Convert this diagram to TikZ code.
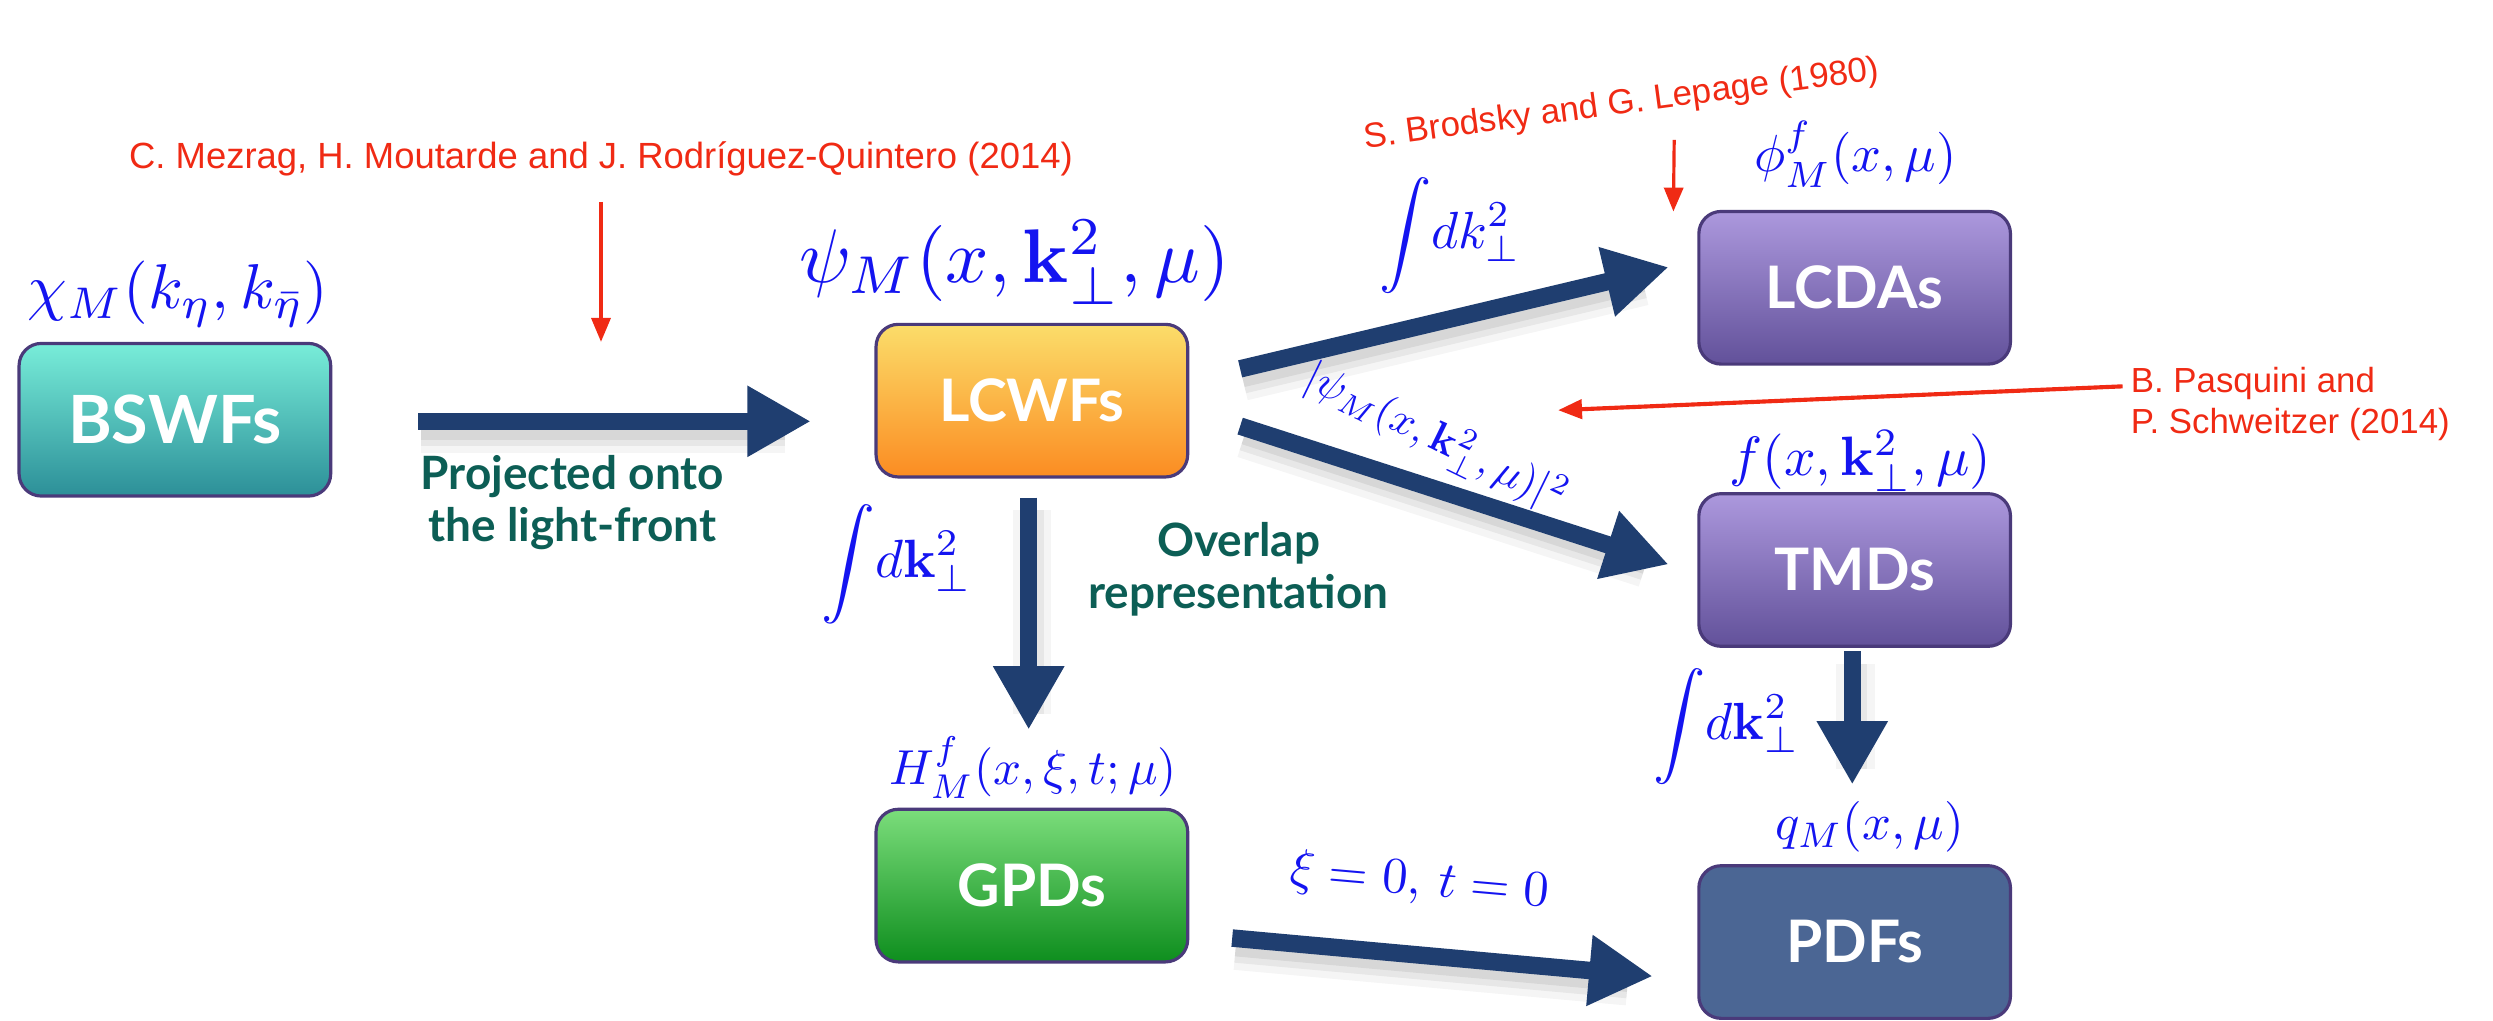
\documentclass[tikz,border=0pt]{standalone}
\usepackage[no-math]{fontspec}
\usepackage{amsmath}
\usetikzlibrary{arrows.meta,calc}
\setmainfont{Lato}
\newfontfamily\reffont{Liberation Sans}
\definecolor{navy}{HTML}{1F3E70}
\definecolor{refred}{HTML}{F02A14}
\definecolor{mblue}{HTML}{1414F0}
\definecolor{tealtxt}{HTML}{0C5E55}
\definecolor{boxborder}{HTML}{4A3A7A}
\definecolor{pdfcol}{HTML}{4B6694}
\tikzset{
  box/.style={rounded corners=14bp, draw=boxborder, line width=2bp,
    minimum width=196bp, minimum height=96bp, text=white,
    font=\fontsize{37}{40}\bfseries\selectfont},
  mlab/.style={text=mblue, inner sep=0pt},
  reftext/.style={text=refred, font=\reffont\fontsize{23}{27}\selectfont, inner sep=0pt},
  tlab/.style={text=tealtxt, font=\fontsize{29}{33}\bfseries\selectfont, align=center, inner sep=0pt},
  bigarrow/.style={draw=navy, line width=11bp, -{Triangle[length=40bp,width=42bp]},
    preaction={draw=black, draw opacity=0.04, line width=24bp, -, shorten >=18bp, transform canvas={xshift=2bp,yshift=-8bp}},
    preaction={draw=black, draw opacity=0.06, line width=15bp, -, shorten >=18bp, transform canvas={xshift=2bp,yshift=-8bp}},
    preaction={draw=black, draw opacity=0.07, line width=7bp, -, shorten >=18bp, transform canvas={xshift=2bp,yshift=-8bp}}},
  redarrow/.style={draw=refred, line width=2bp, -{Triangle[length=15bp,width=12bp]}},
}
\begin{document}
\begin{tikzpicture}[x=1bp,y=-1bp]
\useasboundingbox (0,0) rectangle (1568,642);
% boxes
\node[box, top color={rgb,255:red,120;green,237;blue,217}, bottom color={rgb,255:red,44;green,143;blue,152}, font=\fontsize{42}{46}\bfseries\selectfont] (bswf) at (110,264) {BSWFs};
\node[box, top color={rgb,255:red,251;green,221;blue,106}, bottom color={rgb,255:red,251;green,140;blue,34}] (lcwf) at (649,252) {LCWFs};
\node[box, top color={rgb,255:red,123;green,221;blue,123}, bottom color={rgb,255:red,14;green,142;blue,30}] (gpd) at (649,557) {GPDs};
\node[box, top color={rgb,255:red,172;green,152;blue,221}, bottom color={rgb,255:red,98;green,81;blue,154}] (lcda) at (1166.5,181) {LCDAs};
\node[box, top color={rgb,255:red,172;green,152;blue,221}, bottom color={rgb,255:red,98;green,81;blue,154}] (tmd) at (1166.5,358.5) {TMDs};
\node[box, fill=pdfcol] (pdf) at (1166.5,592.5) {PDFs};
% big arrows
\draw[bigarrow] ($(bswf.east)+(54,1)$) -- ($(lcwf.west)+(-40,13)$);
\draw[bigarrow] ($(lcwf.east)+(32,-20)$) -- ($(lcda.west)+(-18,-13)$);
\draw[bigarrow] ($(lcwf.east)+(32,16)$) -- ($(tmd.west)+(-18,-3.5)$);
\draw[bigarrow] ($(lcwf.south)+(-2,12)$) -- ($(gpd.north)+(-2,-49)$);
\draw[bigarrow] ($(gpd.east)+(27,33)$) -- ($(pdf.west)+(-28,21.5)$);
\draw[bigarrow] ($(tmd.south)+(-1.5,2)$) -- ($(pdf.north)+(-1.5,-50)$);
% math labels
\node[mlab, scale=4.0] (chi) at (112,185) {$\chi_M(k_\eta,k_{\bar\eta})$};
\node[mlab, scale=4.8] (psi) at (638,165) {$\psi_M(x,\mathbf{k}_\perp^2,\mu)$};
\node[mlab, scale=3.3] (phi) at (1167,97) {$\phi_M^f(x,\mu)$};
\node[mlab, scale=3.5] (ftmd) at (1170,290) {$f(x,\mathbf{k}_\perp^2,\mu)$};
\node[mlab, scale=3.2] (qm) at (1176,520) {$q_M(x,\mu)$};
\node[mlab, scale=3.1] (hm) at (650,483) {$H_M^f(x,\xi,t;\mu)$};
\node[mlab, scale=3.2, rotate=-5] (xi) at (893,555) {$\xi=0,\,t=0$};
\node[mlab, scale=2.7, rotate=-26] (abspsi) at (903,276) {$|\psi_M(x,\mathbf{k}_\perp^2,\mu)|^2$};
\node[mlab, scale=3.4] (int1) at (564,355) {$\displaystyle\int\! d\mathbf{k}_\perp^2$};
\node[mlab, scale=3.3] (int2) at (912,148) {$\displaystyle\int\! dk_\perp^2$};
\node[mlab, scale=3.3] (int3) at (1086,457) {$\displaystyle\int\! d\mathbf{k}_\perp^2$};
% teal labels
\node[tlab] (proj) at (360,316) {Projected onto\\the light-front};
\node[tlab] (overlap) at (779,358) {Overlap\\representation};
% reference texts
\node[reftext] (mez) at (378,100) {C. Mezrag, H. Moutarde and J. Rodríguez-Quintero (2014)};
\node[reftext, font=\reffont\fontsize{22}{26}\selectfont, rotate=7.6] (brod) at (1020,66) {S. Brodsky and G. Lepage (1980)};
\node[reftext, font=\reffont\fontsize{22}{26}\selectfont, align=left, anchor=west] (pas) at (1340,254) {B. Pasquini and\\P. Schweitzer (2014)};
% red arrows
\coordinate (mezend) at (378,215);
\coordinate (brodstart) at (1053,88);
\coordinate (pasend) at (980,258);
\draw[redarrow] ($(mez.south)+(0,16)$) -- (mezend);
\draw[redarrow] (brodstart) -- ($(lcda.north west)+(-15,1)$);
\draw[redarrow, line width=2.6bp] ($(pas.west)+(-5,-11)$) -- (pasend);
\end{tikzpicture}
\end{document}
